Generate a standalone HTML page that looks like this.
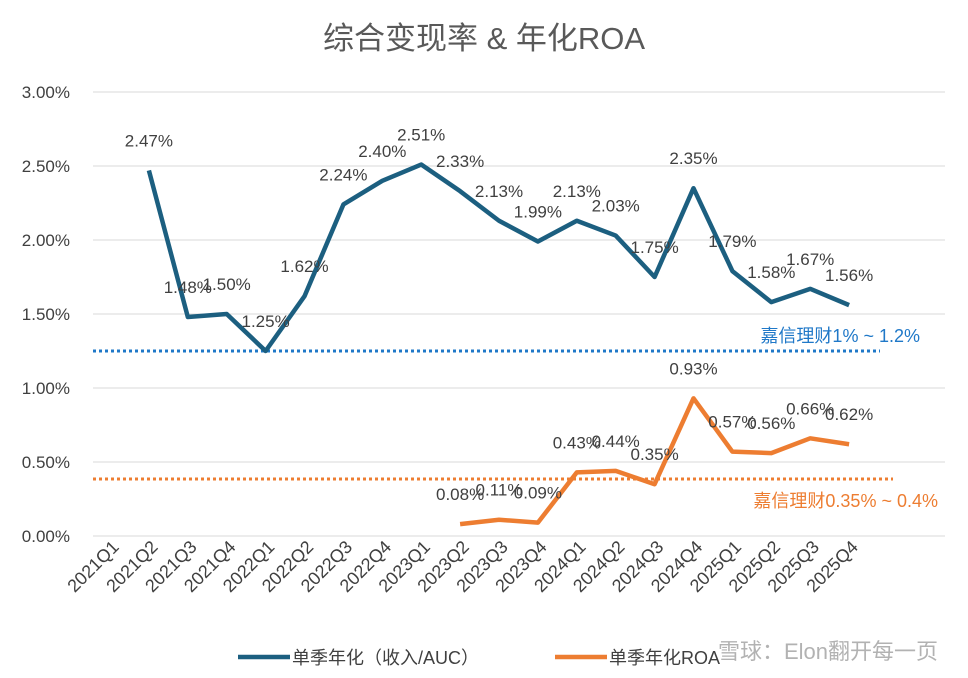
<!DOCTYPE html>
<html><head><meta charset="utf-8">
<style>
html,body{margin:0;padding:0;background:#fff;}
svg{display:block;font-family:"Liberation Sans","Noto Sans CJK SC",sans-serif;}
</style></head>
<body>
<svg id="chart" width="968" height="678" viewBox="0 0 968 678" xmlns="http://www.w3.org/2000/svg">
<text x="484" y="49" text-anchor="middle" font-size="31" fill="#595959">综合变现率 &amp; 年化ROA</text>
<g id="grid"></g><g id="yticks"></g><g id="xticks"></g>
<g id="refs"></g><g id="series"></g><g id="labels"></g>
<g>
<line x1="238" y1="657" x2="290" y2="657" stroke="#1c5f80" stroke-width="4.5"/>
<text x="292" y="664" font-size="18" fill="#404040">单季年化（收入/AUC）</text>
<line x1="555" y1="657" x2="607" y2="657" stroke="#ed7d31" stroke-width="4.5"/>
<text x="609" y="664" font-size="18" fill="#404040">单季年化ROA</text>
</g>
<text x="938" y="659" text-anchor="end" font-size="22" fill="#999999" opacity="0.75">雪球：Elon翻开每一页</text>
</svg>
<script>
const categories=["2021Q1","2021Q2","2021Q3","2021Q4","2022Q1","2022Q2","2022Q3","2022Q4","2023Q1","2023Q2","2023Q3","2023Q4","2024Q1","2024Q2","2024Q3","2024Q4","2025Q1","2025Q2","2025Q3","2025Q4"];
const revenueAUC=[null,2.47,1.48,1.50,1.25,1.62,2.24,2.40,2.51,2.33,2.13,1.99,2.13,2.03,1.75,2.35,1.79,1.58,1.67,1.56];
const roa=[null,null,null,null,null,null,null,null,null,0.08,0.11,0.09,0.43,0.44,0.35,0.93,0.57,0.56,0.66,0.62];
const yTicks=[0,0.5,1,1.5,2,2.5,3];
const refValues=[1.25,0.385];
const refLabels=["嘉信理财1% ~ 1.2%","嘉信理财0.35% ~ 0.4%"];

const NS="http://www.w3.org/2000/svg";
const X=i=>110+i*38.9;
const Y=v=>536-v*148;
function mk(tag,attrs,parent,text){const e=document.createElementNS(NS,tag);for(const k in attrs)e.setAttribute(k,attrs[k]);if(text!==undefined)e.textContent=text;parent.appendChild(e);return e;}
const grid=document.getElementById('grid'),yt=document.getElementById('yticks'),xt=document.getElementById('xticks');
yTicks.forEach(v=>{
 const l=mk('line',{x1:93,x2:945,y1:Y(v),y2:Y(v),stroke:'#d9d9d9','stroke-width':1},grid);
 
 
 const t=mk('text',{x:70,y:Y(v)+6,'text-anchor':'end','font-size':17,fill:'#404040'},yt,v.toFixed(2)+'%');
 
 
});
categories.forEach((c,i)=>{
 const x=X(i)+10,y=548;
 const t=mk('text',{x:x,y:y,'text-anchor':'end','font-size':18,fill:'#404040',transform:`rotate(-45 ${x} ${y})`},xt,c);
 
 
});
const refs=document.getElementById('refs');
const refColors=['#1f78c8','#ed7d31'];
const refEnd=[880,893];
refValues.forEach((v,k)=>{
 const l=mk('line',{x1:93,x2:refEnd[k],y1:Y(v),y2:Y(v),stroke:refColors[k],'stroke-width':3,'stroke-dasharray':'3 3'},refs);
 
 
 const t=mk('text',{x:k==0?920:938,y:k==0?Y(v)-9:Y(v)+28,'text-anchor':'end','font-size':18,fill:refColors[k]},refs,refLabels[k]);
 
 
});
const sg=document.getElementById('series'),lg=document.getElementById('labels');
[[revenueAUC,'#1c5f80','revenue-line'],[roa,'#ed7d31','roa-line']].forEach(([data,col,name])=>{
 let d='';data.forEach((v,i)=>{if(v===null)return;d+=(d?'L':'M')+X(i)+' '+Y(v);});
 const p=mk('path',{d:d,fill:'none',stroke:col,'stroke-width':4.5,'stroke-linejoin':'round'},sg);
 
 
 data.forEach((v,i)=>{if(v===null)return;
  const t=mk('text',{x:X(i),y:Y(v)-24,'text-anchor':'middle','font-size':17,fill:'#404040'},lg,v.toFixed(2)+'%');
  
  
 });
});
</script>
</body></html>
